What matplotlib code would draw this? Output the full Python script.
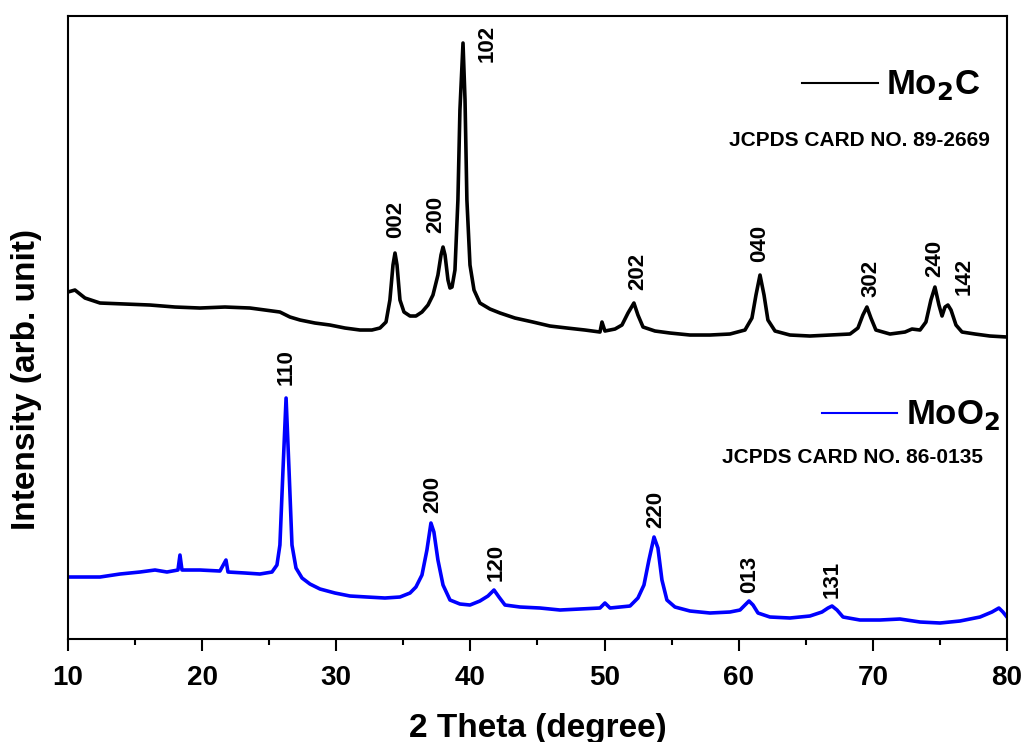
import numpy as np
import matplotlib
matplotlib.use("Agg")
import matplotlib.pyplot as plt

plt.rcParams["font.family"] = ["Liberation Sans", "DejaVu Sans"]
plt.rcParams["font.weight"] = "bold"

# Mo2C trace (2 theta, intensity a.u.)
mo2c_x = [10.0, 10.52, 11.27, 12.39, 14.25, 16.11, 17.98, 19.84, 21.70, 23.57,
          24.69, 25.80, 26.55, 27.30, 28.41, 29.53, 30.65, 31.77, 32.66, 33.26,
          33.71, 34.00, 34.23, 34.38, 34.53, 34.75, 35.05, 35.50, 35.94, 36.39,
          36.84, 37.21, 37.58, 37.81, 37.96, 38.11, 38.33, 38.48, 38.63, 38.85,
          39.07, 39.22, 39.45, 39.60, 39.74, 39.97, 40.27, 40.71, 41.46, 42.21,
          43.32, 44.66, 45.93, 47.20, 48.54, 49.66, 49.81, 50.03, 50.78, 51.30,
          51.75, 52.19, 52.49, 52.87, 53.76, 54.88, 56.37, 57.86, 59.35, 60.47,
          60.99, 61.29, 61.59, 61.89, 62.18, 62.71, 63.82, 65.31, 66.81, 68.30,
          68.89, 69.26, 69.56, 69.86, 70.23, 71.28, 72.40, 72.92, 73.52, 73.96,
          74.33, 74.63, 74.93, 75.16, 75.38, 75.60, 75.83, 76.20, 76.65, 77.62,
          78.73, 80.0]
mo2c_y = [347, 349, 341, 336, 335, 334, 332, 331, 332, 331,
          329, 327, 322, 319, 316, 314, 311, 309, 309, 311,
          317, 339, 374, 386, 374, 339, 327, 323, 323, 327,
          334, 344, 364, 384, 392, 384, 359, 351, 352, 369,
          439, 529, 596, 539, 439, 374, 349, 336, 330, 326,
          321, 317, 313, 311, 309, 307, 317, 308, 310, 314,
          326, 336, 324, 312, 308, 306, 304, 304, 305, 309,
          321, 344, 364, 344, 319, 308, 304, 303, 304, 305,
          311, 324, 332, 321, 309, 305, 307, 310, 309, 317,
          339, 352, 334, 323, 332, 334, 329, 314, 307, 305,
          303, 302]

# MoO2 trace
moo2_x = [10.0, 11.27, 12.39, 13.88, 15.37, 16.49, 17.38, 18.20, 18.35, 18.50,
          19.84, 21.33, 21.78, 21.93, 23.20, 24.31, 25.21, 25.58, 25.80, 26.03,
          26.26, 26.48, 26.70, 27.00, 27.45, 28.04, 28.79, 29.90, 31.02, 32.29,
          33.63, 34.75, 35.50, 35.94, 36.39, 36.76, 37.06, 37.28, 37.58, 37.96,
          38.48, 39.22, 39.97, 40.71, 41.31, 41.76, 42.13, 42.58, 43.70, 45.19,
          46.68, 48.17, 49.66, 50.03, 50.41, 51.90, 52.49, 52.94, 53.31, 53.69,
          53.98, 54.28, 54.65, 55.25, 56.37, 57.86, 59.35, 60.10, 60.47, 60.77,
          61.07, 61.44, 62.33, 63.82, 65.31, 66.21, 66.66, 66.96, 67.33, 67.78,
          69.04, 70.53, 72.02, 73.52, 75.01, 76.50, 77.99, 78.88, 79.40, 79.70,
          80.0]
moo2_y = [62, 62, 62, 65, 67, 69, 67, 69, 84, 69,
          69, 68, 79, 67, 66, 65, 67, 74, 94, 169,
          241, 169, 94, 71, 61, 55, 50, 46, 43, 42,
          41, 42, 46, 52, 64, 89, 116, 107, 79, 54,
          39, 35, 34, 38, 43, 49, 42, 34, 32, 31,
          29, 30, 31, 36, 31, 33, 41, 54, 79, 102,
          91, 59, 39, 32, 28, 26, 27, 29, 34, 38,
          34, 26, 22, 21, 23, 27, 31, 33, 29, 22,
          19, 19, 20, 17, 16, 18, 22, 27, 31, 27,
          22]

# peak labels: (hkl, 2theta, y of label bottom)
mo2c_hkl = ["002", "200", "102", "202", "040", "302", "240", "142"]
mo2c_hkl_x = [34.45, 37.45, 41.25, 52.45, 61.55, 69.85, 74.65, 76.80]
mo2c_hkl_y = [401, 406, 577, 349, 377, 342, 362, 344]

moo2_hkl = ["110", "200", "120", "220", "013", "131"]
moo2_hkl_x = [26.25, 37.2, 41.9, 53.85, 60.85, 66.95]
moo2_hkl_y = [254, 126, 58, 111, 46, 41]

fig = plt.figure(figsize=(10.25, 7.42), dpi=100)
ax = fig.add_axes([0.0663, 0.1388, 0.9161, 0.8396])

ax.plot(mo2c_x, mo2c_y, color="black", lw=2.6)
ax.plot(moo2_x, moo2_y, color="#0000ff", lw=2.6)

for t, x, y in zip(mo2c_hkl, mo2c_hkl_x, mo2c_hkl_y):
    ax.text(x, y, t, rotation=90, ha="center", va="bottom", fontsize=16, fontweight="bold")
for t, x, y in zip(moo2_hkl, moo2_hkl_x, moo2_hkl_y):
    ax.text(x, y, t, rotation=90, ha="center", va="bottom", fontsize=16, fontweight="bold")

# legend-like annotations
ax.plot([64.72, 70.39], [556, 556], color="black", lw=1.5)
ax.text(71.0, 554, "Mo$_\\mathbf{2}$C", fontsize=25, fontweight="bold", va="center", ha="left")
ax.text(78.75, 499, "JCPDS CARD NO. 89-2669", fontsize=15, fontweight="bold", va="center", ha="right")

ax.plot([66.21, 71.80], [226, 226], color="#0000ff", lw=1.5)
ax.text(72.5, 224, "MoO$_\\mathbf{2}$", fontsize=25, fontweight="bold", va="center", ha="left")
ax.text(78.2, 182, "JCPDS CARD NO. 86-0135", fontsize=15, fontweight="bold", va="center", ha="right")

ax.set_xlim(10, 80)
ax.set_ylim(0, 623)
ax.set_xticks([10, 20, 30, 40, 50, 60, 70, 80])
ax.set_xticks([15, 25, 35, 45, 55, 65, 75], minor=True)
ax.set_yticks([])
ax.tick_params(axis="x", which="major", length=8.5, width=1.5, labelsize=20, pad=10)
ax.tick_params(axis="x", which="minor", length=4, width=1.5)
for s in ax.spines.values():
    s.set_linewidth(1.5)

ax.set_xlabel("2 Theta (degree)", fontsize=24, fontweight="bold", labelpad=16)
ax.set_ylabel("Intensity (arb. unit)", fontsize=24, fontweight="bold")
ax.yaxis.set_label_coords(-0.0277, 0.417)

fig.savefig("out.png", dpi=100)
